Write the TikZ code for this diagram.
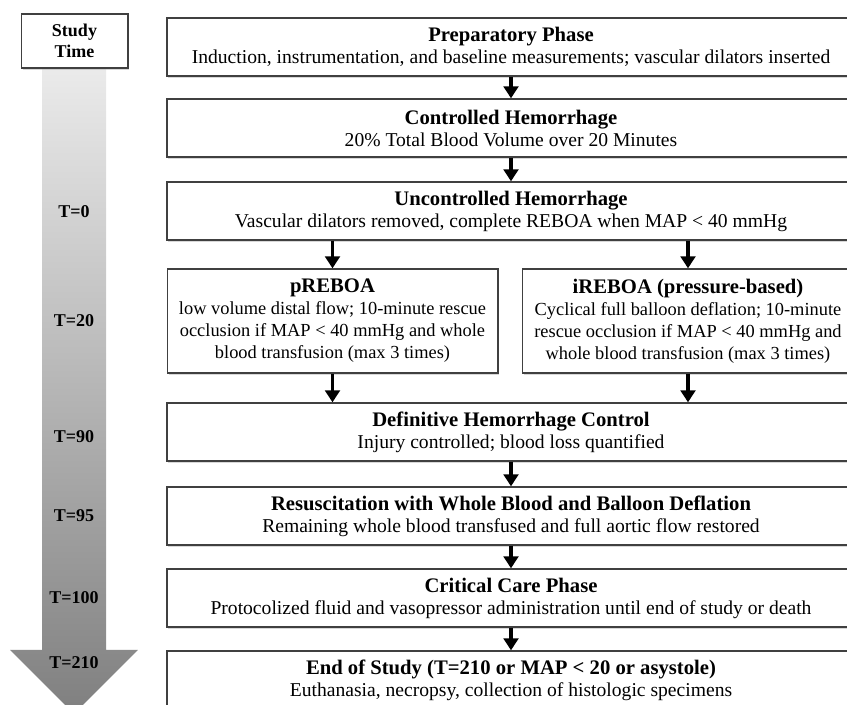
\documentclass[tikz,border=0pt]{standalone}
\usepackage{fontspec}
\setmainfont{Liberation Serif}
\usetikzlibrary{arrows.meta, positioning, shadows}
\newcommand{\phasetitle}[1]{{\fontsize{15.5}{16.5}\selectfont\bfseries #1}}

\begin{document}
\begin{tikzpicture}[x=0.75pt, y=-0.75pt,
    phase/.style={draw=black!75, line width=1pt, fill=white, rectangle, minimum width=516pt, minimum height=43.5pt, align=center, inner sep=0.5pt, font=\fontsize{14.7}{16.5}\selectfont, drop shadow={shadow xshift=1pt, shadow yshift=-1.8pt, fill=black!30}},
    branch/.style={phase, minimum width=248pt, minimum height=78pt, font=\fontsize{13.8}{16.5}\selectfont},
    flow/.style={-{Triangle[length=9pt, width=11pt]}, line width=2.3pt},
    tlabel/.style={font=\fontsize{13.5}{15}\selectfont\bfseries}
]
    \useasboundingbox (0,0) rectangle (847,705);
    \clip (0,0) rectangle (847,705);

    % Time arrow
    \shade[top color=black!8, bottom color=black!50]
        (42,68) -- (106,68) -- (106,650) -- (138,650) -- (74,714) -- (10,650) -- (42,650) -- cycle;
    \node[draw=black!75, line width=1pt, fill=white, minimum width=80pt, minimum height=40.5pt, align=center, font=\fontsize{13.5}{16}\selectfont\bfseries, drop shadow={shadow xshift=1pt, shadow yshift=-1.8pt, fill=black!30}] (time) at (74.5,41) {Study\\Time};

    \node[tlabel] (t0) at (74,212) {T=0};
    \node[tlabel] (t20) at (74,321) {T=20};
    \node[tlabel] (t90) at (74,437) {T=90};
    \node[tlabel] (t95) at (74,516) {T=95};
    \node[tlabel] (t100) at (74,598) {T=100};
    \node[tlabel] (t210) at (74,663) {T=210};

    % Phases
    \node[phase] (prep) at (511,47) {\phasetitle{Preparatory Phase}\\
        Induction, instrumentation, and baseline measurements; vascular dilators inserted};
    \node[phase] (ctrl) at (511,128) {\phasetitle{Controlled Hemorrhage}\\
        20\% Total Blood Volume over 20 Minutes};
    \node[phase] (unctrl) at (511,211) {\phasetitle{Uncontrolled Hemorrhage}\\
        Vascular dilators removed, complete REBOA when MAP < 40 mmHg};

    \node[branch] (preb) at (332.5,321) {\phasetitle{pREBOA}\\
        low volume distal flow; 10-minute rescue\\
        occlusion if MAP < 40 mmHg and whole\\
        blood transfusion (max 3 times)};
    \node[branch] (ireb) at (688,321) {\phasetitle{iREBOA (pressure-based)}\\
        Cyclical full balloon deflation; 10-minute\\
        rescue occlusion if MAP < 40 mmHg and\\
        whole blood transfusion (max 3 times)};

    \node[phase] (defin) at (511,432) {\phasetitle{Definitive Hemorrhage Control}\\
        Injury controlled; blood loss quantified};
    \node[phase] (resus) at (511,516) {\phasetitle{Resuscitation with Whole Blood and Balloon Deflation}\\
        Remaining whole blood transfused and full aortic flow restored};
    \node[phase] (crit) at (511,598) {\phasetitle{Critical Care Phase}\\
        Protocolized fluid and vasopressor administration until end of study or death};
    \node[phase] (endst) at (511,680) {\phasetitle{End of Study (T=210 or MAP < 20 or asystole)}\\
        Euthanasia, necropsy, collection of histologic specimens};

    % Arrows
    \draw[flow] (prep) -- (ctrl);
    \draw[flow] (ctrl) -- (unctrl);
    \draw[flow] (unctrl.south -| preb.north) -- (preb.north);
    \draw[flow] (unctrl.south -| ireb.north) -- (ireb.north);
    \draw[flow] (preb.south) -- (preb.south |- defin.north);
    \draw[flow] (ireb.south) -- (ireb.south |- defin.north);
    \draw[flow] (defin) -- (resus);
    \draw[flow] (resus) -- (crit);
    \draw[flow] (crit) -- (endst);
\end{tikzpicture}
\end{document}
